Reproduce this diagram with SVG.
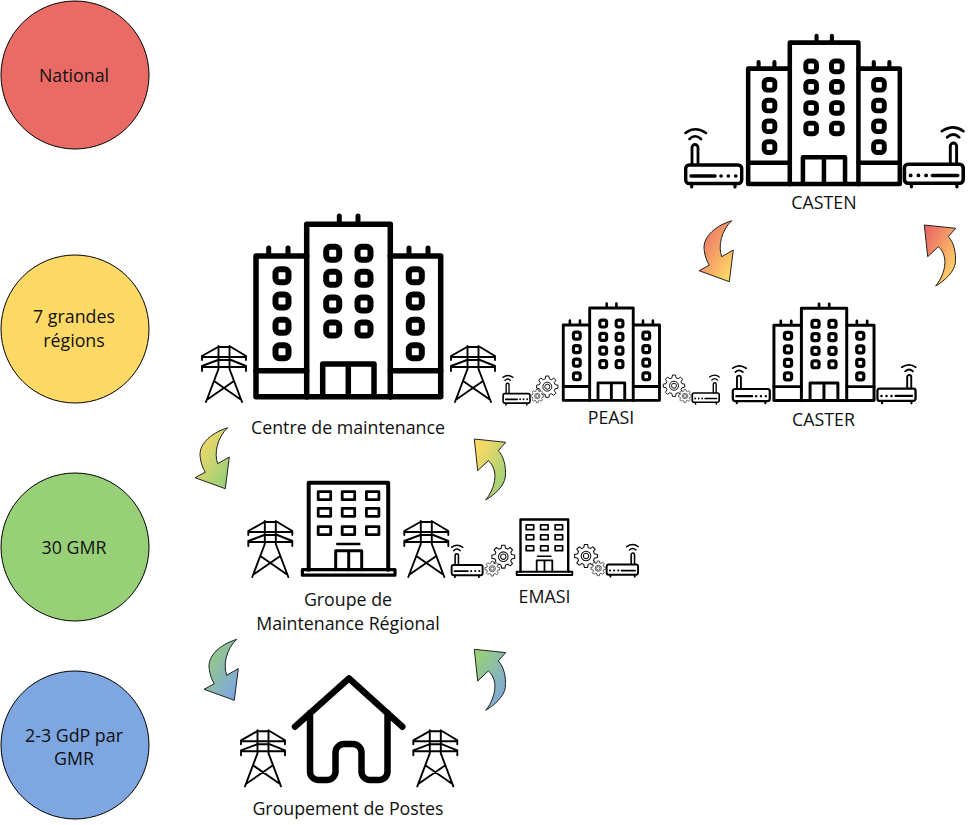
<svg xmlns="http://www.w3.org/2000/svg" xmlns:xlink="http://www.w3.org/1999/xlink" width="975" height="825" viewBox="0 0 975 825">
<style>
text{font-family:"Open Sans","Noto Sans","Liberation Sans",sans-serif;font-size:17.8px;fill:#111;text-anchor:middle}
.circle{stroke:#000;stroke-width:1}
.ln{fill:none;stroke:#000;stroke-linecap:round;stroke-linejoin:round}
.arrow{stroke:#222;stroke-width:1}
</style>
<defs>
<linearGradient id="gr1" x1="0" y1="0" x2="1" y2="1"><stop offset="0.1" stop-color="#EA6B66"/><stop offset="0.9" stop-color="#FFD966"/></linearGradient>
<linearGradient id="gr2" x1="0" y1="0" x2="1" y2="1"><stop offset="0.1" stop-color="#FFD966"/><stop offset="0.9" stop-color="#97D077"/></linearGradient>
<linearGradient id="gr3" x1="0" y1="0" x2="1" y2="1"><stop offset="0.1" stop-color="#97D077"/><stop offset="0.9" stop-color="#7EA6E0"/></linearGradient>
<path id="arrowDown" d="M32.7 0C14 6 3 18 5.3 30C6 36 8 41 10.3 44.5L0 50L30.3 61L34.3 29.3L22.7 36C19 26 22 10 32.7 0Z"/>
<path id="arrowUp" d="M0 0L31.4 3.3L24 11.7C29.500 17 32 28 31 38C30 47 20 56 11.400 61C17 54 21.500 44 20.500 34C19.500 28 17 24 14 21.700L3.400 31.700Z"/>
<g id="building" class="ln">
<g stroke-width="5.5">
<path d="M53.7 182V9.3H137.3V182"/>
<path d="M53.7 41H3V181.7H187.7V41H137.3"/>
<path d="M3 155.7H53.7M137.3 155.7H187.7"/>
<path d="M69.7 181V149H121V181M95.3 149V181"/>
<path d="M86.3 1V7M105 1V7M15.7 33V39M35 33V39M156 33V39M175 33V39" stroke-width="5"/>
</g>
<g stroke-width="6">
<rect x="73.2" y="31.8" width="13" height="13" rx="4"/><rect x="104.5" y="31.8" width="13" height="13" rx="4"/>
<rect x="73.2" y="56.8" width="13" height="13" rx="4"/><rect x="104.5" y="56.8" width="13" height="13" rx="4"/>
<rect x="73.2" y="82.5" width="13" height="13" rx="4"/><rect x="104.5" y="82.5" width="13" height="13" rx="4"/>
<rect x="73.2" y="107.5" width="13" height="13" rx="4"/><rect x="104.5" y="107.5" width="13" height="13" rx="4"/>
<rect x="22.5" y="54.2" width="13" height="13" rx="4"/><rect x="155.8" y="54.2" width="13" height="13" rx="4"/>
<rect x="22.5" y="79.5" width="13" height="13" rx="4"/><rect x="155.8" y="79.5" width="13" height="13" rx="4"/>
<rect x="22.5" y="104.8" width="13" height="13" rx="4"/><rect x="155.8" y="104.8" width="13" height="13" rx="4"/>
<rect x="22.5" y="130.2" width="13" height="13" rx="4"/><rect x="155.8" y="130.2" width="13" height="13" rx="4"/>
</g>
</g>
<g id="office" class="ln" stroke-width="3.4" stroke-linecap="butt" stroke-linejoin="miter">
<path d="M8 89V2H87.5V89" stroke-width="4"/>
<rect x="1.7" y="89" width="92.6" height="5.5" stroke-width="3.2"/>
<rect x="17.5" y="11" width="12.5" height="8" stroke-width="2.8"/><rect x="41.5" y="11" width="12.5" height="8" stroke-width="2.8"/><rect x="65.7" y="11" width="12.5" height="8" stroke-width="2.8"/>
<rect x="17.5" y="27.6" width="12.5" height="8" stroke-width="2.8"/><rect x="41.5" y="27.6" width="12.5" height="8" stroke-width="2.8"/><rect x="65.7" y="27.6" width="12.5" height="8" stroke-width="2.8"/>
<rect x="17.5" y="46" width="12.5" height="8" stroke-width="2.8"/><rect x="41.5" y="46" width="12.5" height="8" stroke-width="2.8"/><rect x="65.7" y="46" width="12.5" height="8" stroke-width="2.8"/>
<path d="M36.6 63.3H58.6" stroke-width="2.6"/>
<path d="M35 89V70H61V89M48 70V89" stroke-width="3"/>
</g>
<g id="pylon" class="ln" stroke-width="1.9">
<path d="M17 2H30L45 11V15M17 2L1 11V15M1 12H45M17 15H30L45 21V26M17 15L1 21V26M1 22H45"/>
<path d="M17.5 1V24L5 57M28.5 1V24L41 57M13 36L39 54M33 36L7 54"/>
</g>
<g id="router" class="ln">
<rect x="1.7" y="38" width="56" height="18.5" rx="3.5" fill="#fff" stroke-width="3.4"/>
<path d="M7.7 57V60M51 57V60" stroke-width="3.2"/>
<path d="M7 49H31" stroke-width="3.4"/>
<path d="M37 49H37.1M44.3 49H44.4M51.7 49H51.8" stroke-width="3.6"/>
<path d="M8 37V20.5a3 3 0 0 1 6 0V37" stroke-width="2.8"/>
<path d="M1.5 6Q11 -1.500 22 6M5.500 12Q11 6.500 17 12" stroke-width="2.6"/>
</g>
<g id="gear" fill="#fff" stroke="#111" stroke-width="1.1">
<path d="M8.69-2.33L11.88-1.67L11.88 1.67L8.69 2.33L7.79 4.5L9.58 7.22L7.22 9.58L4.5 7.79L2.33 8.69L1.67 11.88L-1.67 11.88L-2.33 8.69L-4.5 7.79L-7.22 9.58L-9.58 7.22L-7.79 4.5L-8.69 2.33L-11.88 1.67L-11.88-1.67L-8.69-2.33L-7.79-4.5L-9.58-7.22L-7.22-9.58L-4.5-7.79L-2.33-8.69L-1.67-11.88L1.67-11.88L2.33-8.69L4.5-7.79L7.22-9.58L9.58-7.22L7.79-4.5Z"/>
<circle r="5"/><circle r="2.800"/>
</g>
</defs>

<g id="level-national"><circle class="circle" cx="75" cy="75" r="74" fill="#EA6B66"/><text x="74" y="82">National</text></g>
<g id="level-regions"><circle class="circle" cx="75" cy="329" r="74" fill="#FFD966"/><text x="74" y="323">7 grandes</text><text x="74" y="347">régions</text></g>
<g id="level-gmr"><circle class="circle" cx="75" cy="547" r="74" fill="#97D077"/><text x="74" y="554">30 GMR</text></g>
<g id="level-gdp"><circle class="circle" cx="75" cy="745" r="74" fill="#7EA6E0"/><text x="74" y="742">2-3 GdP par</text><text x="74" y="765">GMR</text></g>

<g id="casten">
<use href="#building" transform="translate(745.7 35) scale(.821 .82)"/>
<use href="#router" transform="translate(684 127)"/>
<use href="#router" transform="translate(965 125) scale(-1.05 1.03)"/>
<text x="824" y="209">CASTEN</text>
</g>
<g id="centre-maintenance">
<use href="#building" transform="translate(253 215)"/>
<use href="#pylon" transform="translate(201 345)"/>
<use href="#pylon" transform="translate(450 345)"/>
<text x="348" y="434">Centre de maintenance</text>
</g>
<g id="peasi">
<use href="#building" transform="translate(561.700 303) scale(.521 .536)"/>
<use href="#router" transform="translate(502.300 374.300) scale(.48 .51)"/>
<use href="#router" transform="translate(720 374) scale(-.48 .5)"/>
<use href="#gear" transform="translate(547.300 386.700) scale(.9)"/>
<use href="#gear" transform="translate(537.300 396) scale(.55)"/>
<use href="#gear" transform="translate(674 385.700) scale(.9)"/>
<use href="#gear" transform="translate(685 396) scale(.55)"/>
<text x="611" y="424">PEASI</text>
</g>
<g id="caster">
<use href="#building" transform="translate(772.300 303.300) scale(.542 .535)"/>
<use href="#router" transform="translate(731.700 364.300) scale(.66 .65)"/>
<use href="#router" transform="translate(916.700 363.300) scale(-.68 .667)"/>
<text x="823.500" y="426">CASTER</text>
</g>
<g id="gmr">
<use href="#office" transform="translate(300.700 480.700)"/>
<use href="#pylon" transform="translate(247.300 520)"/>
<use href="#pylon" transform="translate(403.300 520)"/>
<text x="348" y="606">Groupe de</text>
<text x="348" y="630">Maintenance Régional</text>
</g>
<g id="emasi">
<use href="#office" transform="translate(515.700 518.300) scale(.6)"/>
<use href="#router" transform="translate(450.700 544) scale(.553)"/>
<use href="#router" transform="translate(639 543.300) scale(-.56 .557)"/>
<use href="#gear" transform="translate(503.300 556.700) scale(.96)"/>
<use href="#gear" transform="translate(492.300 568.700) scale(.62)"/>
<use href="#gear" transform="translate(586 556) scale(.96)"/>
<use href="#gear" transform="translate(598.300 568.300) scale(.62)"/>
<text x="544.500" y="603">EMASI</text>
</g>
<g id="gdp">
<path class="ln" stroke-width="6.500" d="M295 726.700L349 678.300L402.300 726.700M310 713V771.500a8.500 8.500 0 0 0 8.500 8.500H327a8.500 8.500 0 0 0 8.500-8.500V752.500a8.500 8.500 0 0 1 8.500-8.500H353a8.500 8.500 0 0 1 8.500 8.500V771.500a8.500 8.500 0 0 0 8.500 8.500H379a8.500 8.500 0 0 0 8.500-8.500V713"/>
<use href="#pylon" transform="translate(240 729.300)"/>
<use href="#pylon" transform="translate(412.300 729.300)"/>
<text x="348" y="815">Groupement de Postes</text>
</g>

<g id="connectors">
<use class="arrow" href="#arrowDown" fill="url(#gr1)" transform="translate(699 220.700)"/>
<use class="arrow" href="#arrowUp" fill="url(#gr1)" transform="translate(924.300 225)"/>
<use class="arrow" href="#arrowDown" fill="url(#gr2)" transform="translate(195 427.700)"/>
<use class="arrow" href="#arrowUp" fill="url(#gr2)" transform="translate(474.300 439)"/>
<use class="arrow" href="#arrowDown" fill="url(#gr3)" transform="translate(204 639.300)"/>
<use class="arrow" href="#arrowUp" fill="url(#gr3)" transform="translate(474.300 649.300)"/>
</g>
</svg>
